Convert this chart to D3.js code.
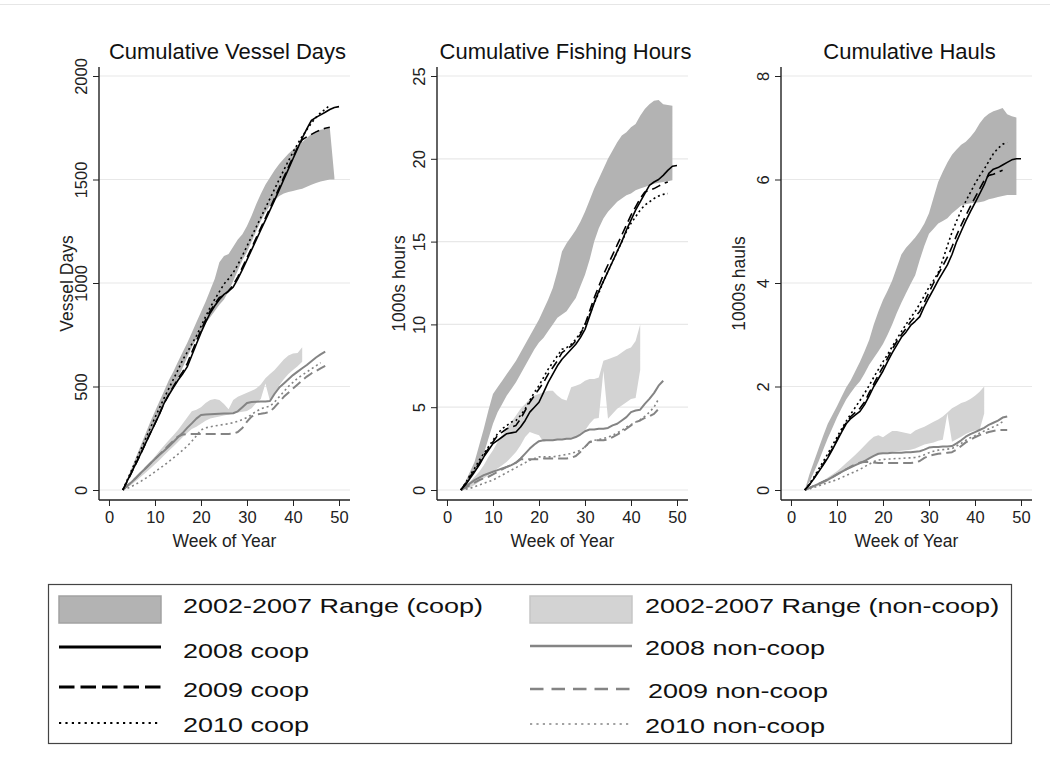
<!DOCTYPE html>
<html>
<head>
<meta charset="utf-8">
<script src="https://cdn.jsdelivr.net/npm/d3@7"></script>
<style>
  body { margin: 0; background: #fff; }
  svg { display: block; font-family: "Liberation Sans", Arial, Helvetica, sans-serif; }
</style>
</head>
<body>
<svg id="chart" width="1050" height="767"></svg>
<script>
// ---- data: weekly cumulative values, every series begins at week 3 ----
const START_WEEK = 3;
const weekTicks = [0, 10, 20, 30, 40, 50];

const panelTitles = ["Cumulative Vessel Days", "Cumulative Fishing Hours", "Cumulative Hauls"];
const yTitles = ["Vessel Days", "1000s hours", "1000s hauls"];
const xTitle = "Week of Year";

// Vessel days
const vdTicks = [0, 500, 1000, 1500, 2000];
const vdCoopHi = [0,55,110,165,220,275,330,380,430,480,530,572,620,665,710,760,810,860,910,965,1020,1100,1130,1140,1175,1210,1235,1275,1325,1380,1430,1475,1510,1545,1575,1600,1625,1645,1665,1680,1700,1720,1733,1740,1745,1750,1510];
const vdCoopLo = [0,40,85,135,185,235,285,330,375,420,460,500,540,590,640,690,730,770,805,835,865,895,920,960,1010,1060,1110,1150,1200,1250,1300,1340,1375,1400,1420,1432,1440,1445,1450,1455,1465,1475,1483,1490,1495,1500,1500];
const vdNcHi = [0,22,45,68,92,115,138,162,190,215,240,265,290,320,350,380,388,400,420,435,440,435,415,390,435,450,460,470,480,490,510,540,560,580,605,630,650,660,662,690];
const vdNcLo = [0,12,28,46,65,84,104,125,145,168,190,210,232,255,275,295,305,320,335,345,350,355,360,365,370,375,378,382,395,420,440,515,430,470,505,535,560,580,598,620];
const vdCoop08 = [0,45,90,135,180,228,275,320,368,420,458,495,530,560,595,650,705,760,810,855,890,920,945,960,980,1020,1065,1112,1160,1208,1256,1304,1352,1400,1450,1500,1550,1600,1650,1700,1745,1785,1800,1812,1825,1838,1848,1852];
const vdCoop09 = [0,42,88,133,180,228,276,322,370,420,462,500,538,570,610,665,720,772,822,865,900,930,940,962,990,1030,1075,1122,1170,1218,1266,1314,1362,1410,1460,1510,1560,1608,1655,1692,1706,1718,1730,1740,1748,1752];
const vdCoop10 = [0,50,100,150,200,250,300,350,398,445,490,535,580,628,665,705,745,790,838,882,922,958,995,1020,1050,1088,1132,1178,1224,1270,1316,1362,1408,1454,1500,1545,1590,1632,1672,1708,1740,1772,1800,1822,1840,1858];
const vdNon08 = [0,20,40,62,85,105,128,150,170,190,210,232,255,275,300,322,345,362,365,366,367,368,369,370,371,380,400,420,425,426,427,428,430,465,495,515,535,555,572,588,604,622,640,655,668];
const vdNon09 = [0,20,40,62,84,106,128,150,172,194,216,238,258,268,270,270,270,270,270,270,270,270,270,271,272,280,300,330,355,365,368,372,378,400,425,450,470,490,510,530,548,563,575,588,600];
const vdNon10 = [0,8,18,30,43,57,72,88,104,120,137,155,173,192,212,235,262,290,300,305,310,313,317,320,325,332,340,350,365,380,392,400,405,425,450,475,500,520,540,555,570,585,600,615];

// Fishing hours (thousands)
const hrTicks = [0, 5, 10, 15, 20, 25];
const hrCoopHi = [0,0.5,1.1,1.7,2.7,3.7,4.8,5.8,6.2,6.6,7.0,7.4,7.8,8.3,8.8,9.3,9.8,10.3,10.9,11.5,12.2,13.2,14.4,14.9,15.3,15.7,16.2,16.8,17.5,18.2,18.8,19.4,20.0,20.5,21.0,21.4,21.6,21.9,22.1,22.6,23.0,23.3,23.5,23.55,23.3,23.25,23.2];
const hrCoopLo = [0,0.2,0.6,1.0,1.5,2.2,3.1,4.0,4.7,5.2,5.7,6.1,6.5,7.0,7.5,8.0,8.5,8.9,9.2,9.6,10.0,10.4,10.6,10.8,11.2,11.6,12.3,13.0,13.9,15.0,15.8,16.4,16.8,17.1,17.4,17.6,17.8,17.9,18.1,18.2,18.3,18.4,18.5,18.55,18.6,18.65,18.7];
const hrNcHi = [0,0.2,0.5,0.8,1.1,1.5,2.0,2.4,2.9,3.3,3.7,4.1,4.5,4.9,5.2,5.5,5.7,5.8,5.9,6.0,6.0,5.7,5.5,5.4,6.2,6.3,6.4,6.6,6.7,6.7,6.8,7.8,7.9,8.0,8.1,8.3,8.5,8.6,9.0,10.0];
const hrNcLo = [0,0.05,0.15,0.3,0.5,0.7,0.9,1.1,1.3,1.5,1.7,2.0,2.3,2.7,3.2,3.5,3.4,3.3,2.9,3.0,3.0,3.05,3.1,3.1,3.15,3.2,3.4,3.6,4.0,4.3,4.35,7.2,4.3,4.6,4.9,5.1,5.3,5.5,5.55,7.25];
const hrCoop08 = [0,0.3,0.7,1.1,1.5,2.0,2.4,2.8,3.0,3.2,3.4,3.45,3.5,3.8,4.2,4.7,5.0,5.3,5.9,6.5,7.0,7.5,7.9,8.2,8.5,8.8,9.2,9.7,10.5,11.3,12.0,12.6,13.2,13.8,14.4,15.0,15.7,16.3,16.9,17.4,17.9,18.4,18.6,18.75,19.0,19.3,19.55,19.6];
const hrCoop09 = [0,0.4,0.8,1.2,1.6,2.1,2.5,2.9,3.3,3.5,3.7,3.8,3.9,4.3,4.8,5.3,5.7,6.1,6.5,7.0,7.4,7.8,8.3,8.5,8.7,9.0,9.4,10.0,10.8,11.6,12.3,13.0,13.6,14.2,14.8,15.4,16.0,16.6,17.1,17.6,18.0,18.1,18.2,18.35,18.5,18.6];
const hrCoop10 = [0,0.4,0.9,1.3,1.8,2.2,2.6,3.0,3.4,3.7,3.9,4.1,4.2,4.5,4.9,5.4,5.9,6.3,6.8,7.3,7.7,8.1,8.5,8.6,8.8,9.1,9.5,10.0,10.6,11.3,11.9,12.6,13.2,13.8,14.4,15.0,15.6,16.1,16.5,16.9,17.2,17.4,17.6,17.75,17.85,17.9];
const hrNon08 = [0,0.2,0.4,0.6,0.75,0.9,1.0,1.1,1.2,1.3,1.4,1.5,1.65,1.9,2.2,2.5,2.75,2.95,3.0,3.0,3.0,3.05,3.05,3.1,3.1,3.2,3.35,3.55,3.65,3.65,3.7,3.7,3.75,3.9,4.0,4.2,4.4,4.7,4.8,4.85,5.2,5.5,5.85,6.3,6.6];
const hrNon09 = [0,0.15,0.3,0.45,0.6,0.7,0.8,0.95,1.1,1.25,1.4,1.5,1.65,1.85,1.85,1.85,1.85,1.85,1.9,1.9,1.9,1.9,1.9,1.9,1.95,2.05,2.3,2.6,2.9,3.0,3.0,3.0,3.05,3.2,3.35,3.5,3.7,3.9,4.1,4.2,4.35,4.45,4.6,4.9];
const hrNon10 = [0,0.05,0.1,0.2,0.3,0.4,0.5,0.6,0.75,0.9,1.05,1.2,1.35,1.5,1.65,1.8,1.9,2.0,2.0,2.0,2.0,2.05,2.1,2.15,2.2,2.3,2.4,2.6,2.85,3.0,3.05,3.1,3.2,3.3,3.45,3.6,3.8,3.95,4.1,4.25,4.45,4.7,5.0,5.5];

// Hauls (thousands)
const hlTicks = [0, 2, 4, 6, 8];
const hlCoopHi = [0,0.3,0.55,0.8,1.05,1.28,1.45,1.62,1.8,1.98,2.12,2.3,2.48,2.68,2.9,3.2,3.45,3.67,3.85,4.05,4.3,4.55,4.68,4.78,4.88,5.0,5.15,5.35,5.65,5.95,6.15,6.33,6.48,6.58,6.67,6.73,6.82,6.93,7.08,7.2,7.27,7.32,7.35,7.38,7.26,7.22,7.2];
const hlCoopLo = [0,0.15,0.35,0.55,0.78,1.0,1.2,1.4,1.58,1.75,1.88,2.0,2.1,2.25,2.42,2.55,2.68,2.82,3.0,3.2,3.42,3.62,3.8,3.98,4.15,4.45,4.72,4.95,5.05,5.15,5.2,5.25,5.35,5.42,5.5,5.52,5.54,5.55,5.56,5.58,5.62,5.64,5.66,5.68,5.7,5.7,5.7];
const hlNcHi = [0,0.04,0.08,0.13,0.18,0.24,0.3,0.36,0.44,0.52,0.6,0.68,0.77,0.86,0.95,1.03,1.06,1.02,1.08,1.14,1.14,1.12,1.1,1.08,1.15,1.19,1.22,1.27,1.32,1.36,1.42,1.5,1.58,1.63,1.68,1.71,1.76,1.82,1.9,2.0];
const hlNcLo = [0,0.02,0.05,0.08,0.12,0.17,0.22,0.27,0.33,0.38,0.43,0.48,0.52,0.57,0.62,0.66,0.69,0.72,0.73,0.74,0.75,0.76,0.77,0.78,0.8,0.84,0.88,0.9,0.92,0.95,0.97,1.48,0.93,0.98,1.03,1.08,1.12,1.15,1.16,1.48];
const hlCoop08 = [0,0.1,0.22,0.35,0.48,0.62,0.78,0.95,1.12,1.28,1.38,1.45,1.52,1.65,1.82,2.0,2.15,2.3,2.48,2.65,2.8,2.95,3.05,3.18,3.26,3.35,3.55,3.72,3.88,4.05,4.2,4.35,4.55,4.8,5.0,5.2,5.38,5.55,5.72,5.9,6.12,6.2,6.23,6.28,6.33,6.38,6.4,6.4];
const hlCoop09 = [0,0.1,0.23,0.37,0.5,0.65,0.8,0.97,1.14,1.3,1.42,1.5,1.58,1.7,1.88,2.05,2.22,2.38,2.55,2.72,2.87,3.0,3.12,3.25,3.35,3.45,3.63,3.82,4.0,4.17,4.33,4.5,4.7,4.92,5.12,5.3,5.48,5.65,5.82,5.98,6.08,6.1,6.14,6.18];
const hlCoop10 = [0,0.12,0.25,0.4,0.55,0.7,0.86,1.02,1.18,1.33,1.47,1.6,1.73,1.87,2.02,2.18,2.33,2.48,2.62,2.77,2.92,3.06,3.2,3.33,3.45,3.6,3.76,3.92,4.05,4.2,4.45,4.72,4.98,5.2,5.4,5.58,5.75,5.92,6.07,6.2,6.35,6.5,6.6,6.68,6.72];
const hlNon08 = [0,0.04,0.08,0.12,0.16,0.2,0.25,0.3,0.35,0.4,0.44,0.48,0.52,0.56,0.61,0.66,0.7,0.71,0.71,0.72,0.72,0.72,0.73,0.73,0.74,0.75,0.78,0.82,0.83,0.83,0.84,0.84,0.85,0.9,0.96,1.03,1.08,1.12,1.16,1.2,1.26,1.3,1.34,1.4,1.42];
const hlNon09 = [0,0.04,0.08,0.12,0.16,0.2,0.25,0.3,0.35,0.4,0.45,0.5,0.53,0.54,0.54,0.53,0.52,0.52,0.52,0.52,0.52,0.52,0.52,0.52,0.53,0.56,0.62,0.66,0.68,0.7,0.71,0.72,0.73,0.78,0.85,0.92,0.97,1.02,1.06,1.09,1.12,1.14,1.16,1.16,1.16];
const hlNon10 = [0,0.02,0.05,0.08,0.11,0.14,0.17,0.2,0.24,0.28,0.32,0.36,0.4,0.45,0.5,0.55,0.58,0.59,0.6,0.6,0.61,0.61,0.62,0.62,0.63,0.65,0.68,0.72,0.75,0.77,0.78,0.79,0.8,0.85,0.9,0.96,1.01,1.05,1.1,1.14,1.18,1.22,1.26,1.32];

const legendLabels = [
  ["2002-2007 Range (coop)", "2008 coop", "2009 coop", "2010 coop"],
  ["2002-2007 Range (non-coop)", "2008 non-coop", "2009 non-coop", "2010 non-coop"]
];

// ---- styles ----
const COOP_BAND = "#b3b3b3";
const NONCOOP_BAND = "#d3d3d3";
const lineStyles = {
  coop08: { color: "#000", width: 1.6, dash: null },
  coop09: { color: "#000", width: 1.6, dash: "9,5" },
  coop10: { color: "#000", width: 1.6, dash: "2,3" },
  non08:  { color: "#848484", width: 2.0, dash: null },
  non09:  { color: "#848484", width: 2.0, dash: "10,5" },
  non10:  { color: "#848484", width: 1.6, dash: "2,3" }
};

const panels = [
  { ticks: vdTicks, coopHi: vdCoopHi, coopLo: vdCoopLo, ncHi: vdNcHi, ncLo: vdNcLo,
    series: { non08: vdNon08, non09: vdNon09, non10: vdNon10, coop08: vdCoop08, coop09: vdCoop09, coop10: vdCoop10 } },
  { ticks: hrTicks, coopHi: hrCoopHi, coopLo: hrCoopLo, ncHi: hrNcHi, ncLo: hrNcLo,
    series: { non08: hrNon08, non09: hrNon09, non10: hrNon10, coop08: hrCoop08, coop09: hrCoop09, coop10: hrCoop10 } },
  { ticks: hlTicks, coopHi: hlCoopHi, coopLo: hlCoopLo, ncHi: hlNcHi, ncLo: hlNcLo,
    series: { non08: hlNon08, non09: hlNon09, non10: hlNon10, coop08: hlCoop08, coop09: hlCoop09, coop10: hlCoop10 } }
];

// ---- layout ----
const svg = d3.select("#chart");
const axisLeftX = [99, 437, 781];
const yTitleGap = [26, 32, 36];
const plotW = 251, plotTop = 67, plotBottom = 500;
const yZero = 490, yTopTick = 76;

// faint frame line along the top
svg.append("line").attr("x1", 0).attr("x2", 1050).attr("y1", 4.5).attr("y2", 4.5)
  .attr("stroke", "#e6e6e6").attr("stroke-width", 1);

panels.forEach((p, pi) => {
  const g = svg.append("g").attr("transform", `translate(${axisLeftX[pi]},0)`);
  const x = d3.scaleLinear().domain([-2.17, 52.39]).range([0, plotW]);
  const y = d3.scaleLinear().domain([0, p.ticks[p.ticks.length - 1]]).range([yZero, yTopTick]);
  const wk = i => x(START_WEEK + i);

  // gridlines
  g.selectAll("line.grid").data(p.ticks).join("line").attr("class", "grid")
    .attr("x1", 0).attr("x2", plotW).attr("y1", d => y(d)).attr("y2", d => y(d))
    .attr("stroke", "#e8e8e8").attr("stroke-width", 1.2);

  // 2002-2007 range bands
  const band = (hi, lo) => d3.area().x((d, i) => wk(i)).y0((d, i) => y(lo[i])).y1(d => y(d))(hi);
  g.append("path").attr("d", band(p.coopHi, p.coopLo)).attr("fill", COOP_BAND);
  g.append("path").attr("d", band(p.ncHi, p.ncLo)).attr("fill", NONCOOP_BAND);

  // yearly series
  const line = d3.line().x((d, i) => wk(i)).y(d => y(d));
  Object.entries(p.series).forEach(([key, vals]) => {
    const s = lineStyles[key];
    g.append("path").attr("d", line(vals)).attr("fill", "none")
      .attr("stroke", s.color).attr("stroke-width", s.width)
      .attr("stroke-dasharray", s.dash).attr("stroke-linejoin", "round");
  });

  // axes
  const yAxis = g.append("g").call(d3.axisLeft(y).tickValues(p.ticks).tickFormat(d3.format("d"))
    .tickSize(6).tickSizeOuter(0));
  yAxis.select(".domain").remove();
  yAxis.selectAll(".tick line").attr("stroke", "#222");
  yAxis.selectAll(".tick text")
    .attr("transform", "rotate(-90)").attr("x", 0).attr("y", -12).attr("dy", 0)
    .attr("text-anchor", "middle").attr("font-size", 16.5).attr("fill", "#222")
    .attr("font-family", "Liberation Sans, Arial, sans-serif");

  const xAxis = g.append("g").attr("transform", `translate(0,${plotBottom})`)
    .call(d3.axisBottom(x).tickValues(weekTicks).tickFormat(d3.format("d")).tickSize(6).tickSizeOuter(0));
  xAxis.select(".domain").remove();
  xAxis.selectAll(".tick line").attr("stroke", "#222");
  xAxis.selectAll(".tick text").attr("y", 23).attr("dy", 0)
    .attr("font-size", 16.5).attr("fill", "#222")
    .attr("font-family", "Liberation Sans, Arial, sans-serif");

  g.append("line").attr("x1", 0).attr("x2", 0).attr("y1", plotTop).attr("y2", plotBottom)
    .attr("stroke", "#222").attr("stroke-width", 1.4);
  g.append("line").attr("x1", 0).attr("x2", plotW).attr("y1", plotBottom).attr("y2", plotBottom)
    .attr("stroke", "#222").attr("stroke-width", 1.4);

  // titles
  g.append("text").attr("x", plotW / 2 + 3).attr("y", 59).attr("text-anchor", "middle")
    .attr("font-size", 22).attr("fill", "#111").text(panelTitles[pi]);
  g.append("text").attr("x", plotW / 2).attr("y", 547).attr("text-anchor", "middle")
    .attr("font-size", 17.5).attr("fill", "#222").text(xTitle);
  g.append("text")
    .attr("transform", `translate(${-yTitleGap[pi]},${(plotTop + plotBottom) / 2}) rotate(-90)`)
    .attr("text-anchor", "middle").attr("font-size", 17.5).attr("fill", "#222").text(yTitles[pi]);
});

// ---- legend ----
const lg = svg.append("g");
lg.append("rect").attr("x", 48.5).attr("y", 584.5).attr("width", 963).attr("height", 159)
  .attr("fill", "#fff").attr("stroke", "#444").attr("stroke-width", 1.2);

const cols = [
  { keyX: 59, textX: [183, 183, 183, 183], band: COOP_BAND, bandStroke: "#a2a2a2",
    lineY: [647, 687, 723], keys: ["coop08", "coop09", "coop10"], textY: [613, 658, 697, 732] },
  { keyX: 530, textX: [645, 645, 648, 645], band: NONCOOP_BAND, bandStroke: "#c6c6c6",
    lineY: [646, 689, 724], keys: ["non08", "non09", "non10"], textY: [613, 655, 698, 733] }
];
const legendDash = { coop09: "15.5,6", non09: "13.5,8", coop10: "2.2,4.2", non10: "2.2,4.2" };
const legendWidth = { coop08: 2.8, coop09: 2.8, coop10: 2.0, non08: 2.6, non09: 2.6, non10: 1.6 };

cols.forEach((c, ci) => {
  lg.append("rect").attr("x", c.keyX).attr("y", 596).attr("width", 102).attr("height", 27)
    .attr("fill", c.band).attr("stroke", c.bandStroke).attr("stroke-width", 1.5);
  c.keys.forEach((k, ki) => {
    lg.append("line").attr("x1", c.keyX).attr("x2", c.keyX + 102)
      .attr("y1", c.lineY[ki]).attr("y2", c.lineY[ki])
      .attr("stroke", lineStyles[k].color).attr("stroke-width", legendWidth[k])
      .attr("stroke-dasharray", legendDash[k] || null);
  });
  legendLabels[ci].forEach((t, ti) => {
    lg.append("text").attr("transform", `translate(${c.textX[ti]},${c.textY[ti]}) scale(1.35,1)`)
      .attr("font-size", 20).attr("fill", "#111").text(t);
  });
});
</script>
</body>
</html>
